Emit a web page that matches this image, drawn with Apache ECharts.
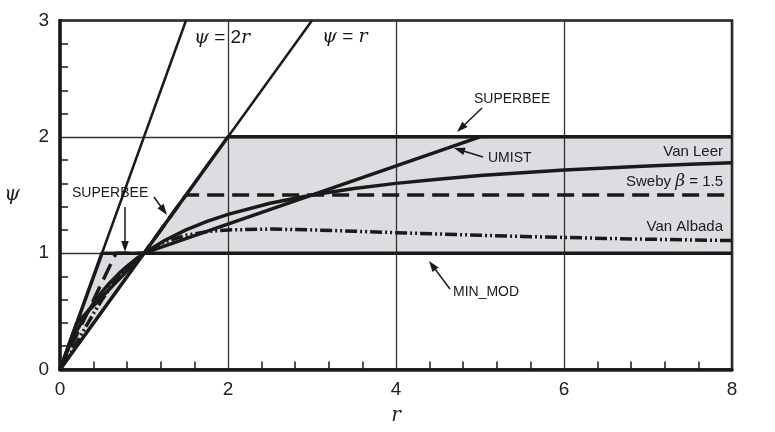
<!DOCTYPE html>
<html>
<head>
<meta charset="utf-8">
<script src="https://cdn.jsdelivr.net/npm/echarts@6/dist/echarts.min.js"></script>
<style>html,body{margin:0;padding:0;background:#fff}#c{width:775px;height:432px}</style>
</head>
<body>
<div id="c"></div>
<script>
// ---- data ----
const superbeeR = [0, 0.5, 1, 2, 8];
const superbeePsi = [0, 1, 1, 2, 2];
const minmodR = [0, 1, 8];
const minmodPsi = [0, 1, 1];
const umistR = [0, 0.2, 1, 5];
const umistPsi = [0, 0.4, 1, 2];
const swebyR = [0, 0.667, 1, 1.5, 8];
const swebyPsi = [0, 1, 1, 1.5, 1.5];
const vanLeerR = [0, 0.1, 0.2, 0.3, 0.4, 0.5, 0.6, 0.7, 0.8, 0.9, 1, 1.25, 1.5, 1.75, 2, 2.5, 3, 3.5, 4, 4.5, 5, 5.5, 6, 6.5, 7, 7.5, 8];
const vanLeerPsi = [0, 0.182, 0.333, 0.462, 0.571, 0.667, 0.75, 0.824, 0.889, 0.947, 1, 1.111, 1.2, 1.273, 1.333, 1.429, 1.5, 1.556, 1.6, 1.636, 1.667, 1.692, 1.714, 1.733, 1.75, 1.765, 1.778];
const vanAlbadaR = [0, 0.1, 0.2, 0.3, 0.4, 0.5, 0.6, 0.7, 0.8, 0.9, 1, 1.25, 1.5, 1.75, 2, 2.5, 3, 3.5, 4, 4.5, 5, 5.5, 6, 6.5, 7, 7.5, 8];
const vanAlbadaPsi = [0, 0.109, 0.231, 0.358, 0.483, 0.6, 0.706, 0.799, 0.878, 0.945, 1, 1.098, 1.154, 1.185, 1.2, 1.207, 1.2, 1.189, 1.176, 1.165, 1.154, 1.144, 1.135, 1.127, 1.12, 1.114, 1.108];
const twoRR = [0, 1.5];
const twoRPsi = [0, 3];
const oneRR = [0, 3];
const oneRPsi = [0, 3];
const rTickLabels = ['0', '2', '4', '6', '8'];
const psiTickLabels = ['0', '1', '2', '3'];

function zip(a, b) { return a.map((v, i) => [v, b[i]]); }
const regionPts = zip(superbeeR, superbeePsi).concat(zip(minmodR, minmodPsi).reverse());

const INK = '#1a1a1a';
const chart = echarts.init(document.getElementById('c'), null, {renderer: 'canvas'});

function lineSeries(name, xs, ys, width, type, extra) {
  return Object.assign({
    name: name, type: 'line', data: zip(xs, ys), showSymbol: false, symbol: 'none',
    lineStyle: {color: INK, width: width, type: type || 'solid', cap: 'butt', join: 'round'},
    z: 3, silent: true, animation: false
  }, extra || {});
}

const option = {
  animation: false,
  grid: {left: 60, right: 43, top: 20.5, bottom: 62.5, show: true, borderColor: INK, borderWidth: 2.5, backgroundColor: 'transparent'},
  xAxis: {
    type: 'value', min: 0, max: 8, interval: 2, splitNumber: 4,
    name: 'r', nameLocation: 'middle', nameGap: 36,
    nameTextStyle: {fontFamily: 'DejaVu Serif', fontStyle: 'italic', fontSize: 20, color: '#222'},
    axisLine: {show: true, onZero: false, lineStyle: {color: INK, width: 3.5}},
    axisTick: {show: false, inside: true},
    minorTick: {show: true, splitNumber: 5, length: 8, lineStyle: {color: INK, width: 1.5}},
    axisLabel: {fontFamily: 'Liberation Sans', fontSize: 19, color: '#222', margin: 11,
      formatter: v => rTickLabels[rTickLabels.indexOf(String(v))] || String(v)},
    splitLine: {show: true, lineStyle: {color: '#333', width: 1.3}}
  },
  yAxis: {
    type: 'value', min: 0, max: 3, interval: 1,
    name: 'ψ', nameLocation: 'middle', nameGap: 40, nameRotate: 0,
    nameTextStyle: {fontFamily: 'DejaVu Serif', fontStyle: 'italic', fontSize: 20, color: '#222'},
    axisLine: {show: true, onZero: false, lineStyle: {color: INK, width: 3.5}},
    axisTick: {show: false, inside: true},
    minorTick: {show: true, splitNumber: 5, length: 8, lineStyle: {color: INK, width: 1.5}},
    axisLabel: {fontFamily: 'Liberation Sans', fontSize: 19, color: '#222', margin: 11,
      formatter: v => psiTickLabels[psiTickLabels.indexOf(String(v))] || String(v)},
    splitLine: {show: true, lineStyle: {color: '#333', width: 1.3}}
  },
  series: [
    {
      type: 'custom', name: 'TVD region', data: regionPts, z: -1, silent: true,
      renderItem: function (params, api) {
        if (params.dataIndex !== 0) return null;
        const pts = regionPts.map(p => api.coord(p));
        return {type: 'polygon', shape: {points: pts}, style: {fill: '#dcdde0', stroke: null}};
      }
    },
    lineSeries('ψ = 2r', twoRR, twoRPsi, 2.5),
    lineSeries('ψ = r', oneRR, oneRPsi, 2.5),
    lineSeries('Van Albada', vanAlbadaR, vanAlbadaPsi, 3.5, [12, 3, 2, 3, 2, 3]),
    lineSeries('Sweby β = 1.5', swebyR, swebyPsi, 3.5, [17, 8]),
    lineSeries('Van Leer', vanLeerR, vanLeerPsi, 3.5),
    lineSeries('UMIST', umistR, umistPsi, 3.5),
    lineSeries('MIN_MOD', minmodR, minmodPsi, 3.5),
    lineSeries('SUPERBEE', superbeeR, superbeePsi, 3.5)
  ]
};
chart.setOption(option);

// ---- annotations ----
function arrow(x1, y1, x2, y2) {
  const a = Math.atan2(y2 - y1, x2 - x1), L = 11, W = 3.8;
  const c = Math.cos(a), s = Math.sin(a);
  const bx = x2 - L * c, by = y2 - L * s;
  return {
    type: 'group', silent: true, children: [
      {type: 'line', shape: {x1: x1, y1: y1, x2: bx + 2 * c, y2: by + 2 * s}, style: {stroke: INK, lineWidth: 1.5}},
      {type: 'polygon', shape: {points: [[x2, y2], [bx - W * s, by + W * c], [bx + W * s, by - W * c]]}, style: {fill: INK}}
    ]
  };
}
function label(text, x, y, align, size) {
  return {type: 'text', silent: true, x: x, y: y, style: {text: text, fill: INK, align: align || 'left', verticalAlign: 'middle',
    font: (size || 15) + 'px "Liberation Sans", Arial, sans-serif'}};
}
function formula(parts, x, y) {
  return {type: 'text', silent: true, x: x, y: y, style: {
    text: parts, verticalAlign: 'middle', align: 'left',
    rich: {
      it: {fontFamily: 'DejaVu Serif', fontStyle: 'italic', fontSize: 19, fill: INK},
      n: {fontFamily: 'Liberation Sans', fontSize: 19, fill: INK}
    }
  }};
}
const graphics = [
  formula('{it|ψ}{n| = 2}{it|r}', 194, 38),
  formula('{it|ψ}{n| = }{it|r}', 322, 37),
  label('SUPERBEE', 474, 99, 'left', 14), arrow(482, 108, 457, 132),
  label('UMIST', 488, 158, 'left', 14), arrow(483, 157, 454, 148),
  label('Van Leer', 723, 152, 'right', 15),
  {type: 'text', silent: true, x: 723, y: 182, style: {text: '{n|Sweby }{b|β}{n| = 1.5}', align: 'right', verticalAlign: 'middle',
    rich: {n: {fontFamily: 'Liberation Sans', fontSize: 15, fill: INK}, b: {fontFamily: 'DejaVu Serif', fontStyle: 'italic', fontSize: 17, fill: INK}}}},
  label('Van Albada', 723, 227, 'right', 15),
  label('MIN_MOD', 453, 292, 'left', 14), arrow(450, 289, 429, 261),
  label('SUPERBEE', 72, 193, 'left', 14), arrow(154, 197, 167, 215), arrow(125, 207, 125, 252)
];
chart.setOption({graphic: graphics});
</script>
</body>
</html>
